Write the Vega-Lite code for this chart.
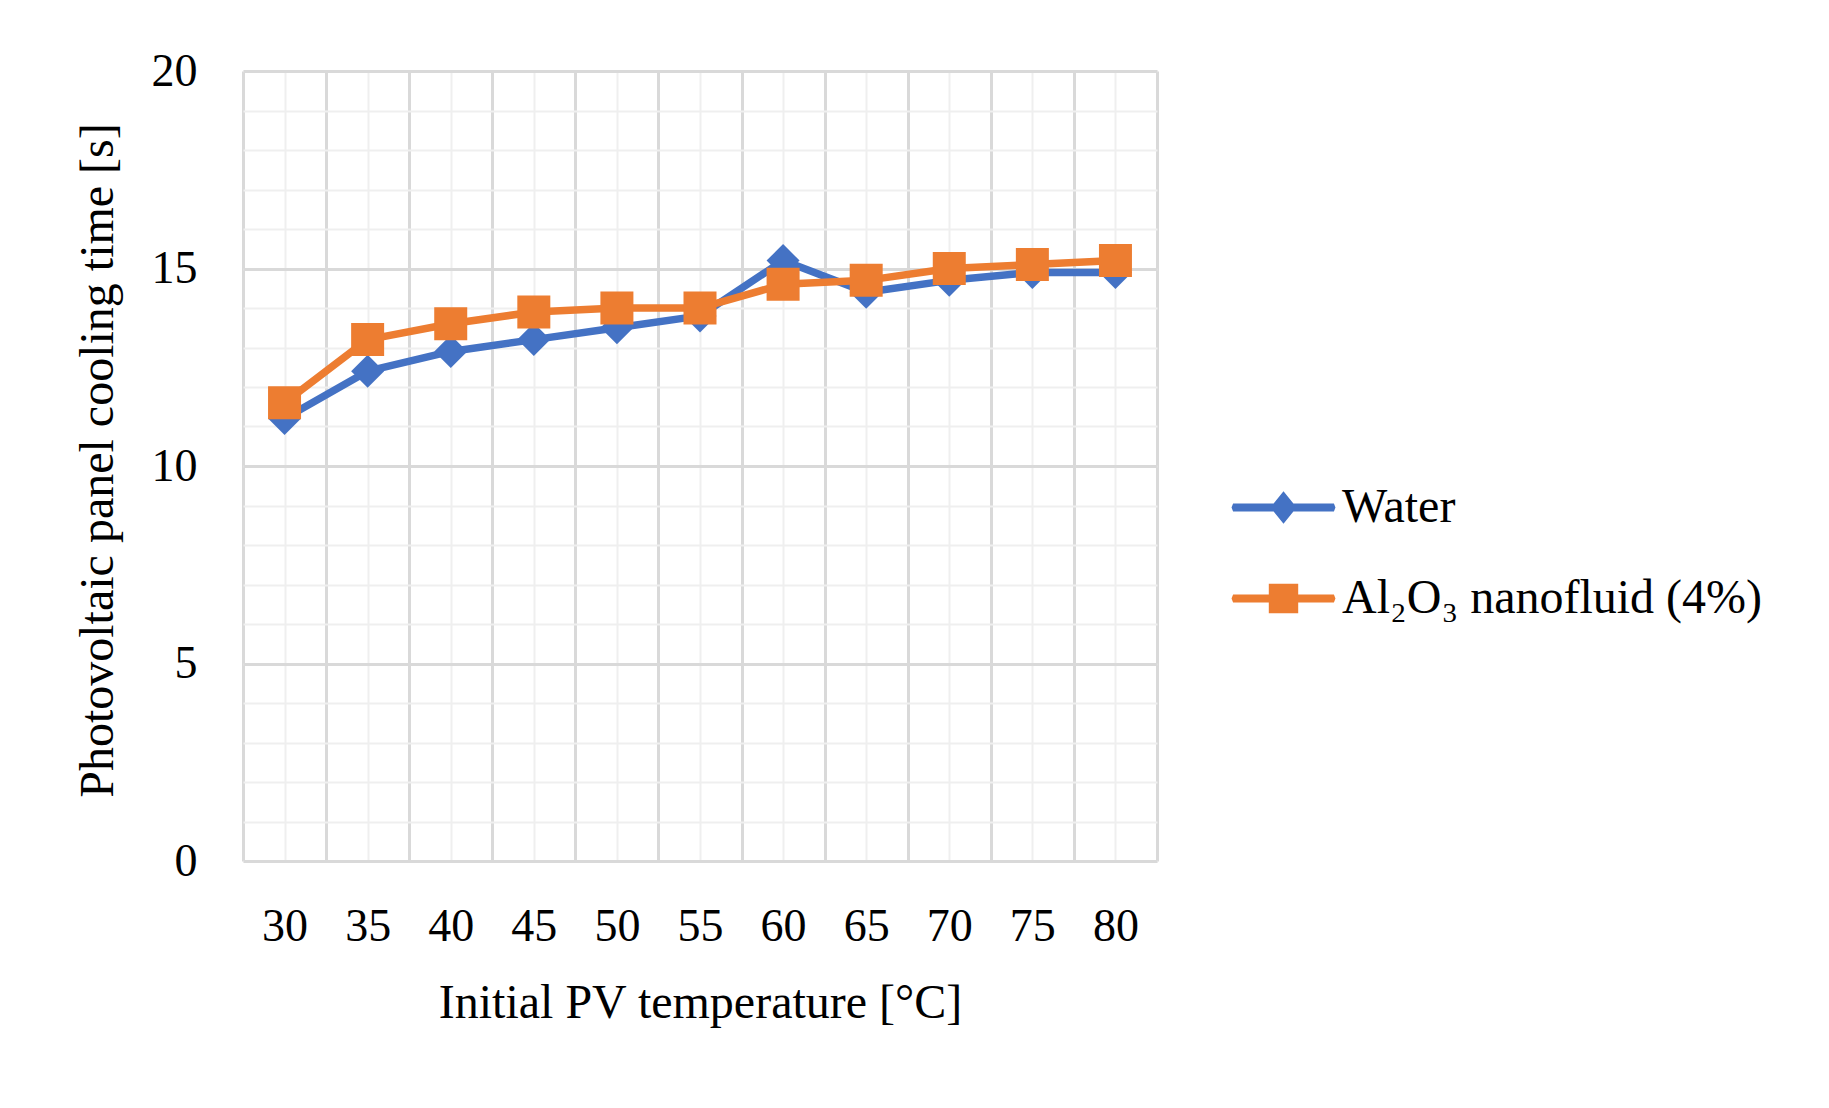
{
  "$schema": "https://vega.github.io/schema/vega-lite/v6.json",
  "width": 914,
  "height": 790,
  "autosize": {"type": "none"},
  "padding": {"left": 243, "top": 71, "right": 672, "bottom": 247},
  "background": "white",
  "config": {
    "view": {"stroke": null},
    "font": "Liberation Serif",
    "axis": {"labelColor": "#000000", "titleColor": "#000000", "labelFont": "Liberation Serif", "titleFont": "Liberation Serif", "titleFontWeight": "normal"},
    "legend": {"labelColor": "#000000", "labelFont": "Liberation Serif"}
  },
  "data": {
    "values": [
      {"t": 30, "series": "Water", "v": 11.2},
      {"t": 35, "series": "Water", "v": 12.4},
      {"t": 40, "series": "Water", "v": 12.9},
      {"t": 45, "series": "Water", "v": 13.2},
      {"t": 50, "series": "Water", "v": 13.5},
      {"t": 55, "series": "Water", "v": 13.8},
      {"t": 60, "series": "Water", "v": 15.2},
      {"t": 65, "series": "Water", "v": 14.4},
      {"t": 70, "series": "Water", "v": 14.7},
      {"t": 75, "series": "Water", "v": 14.9},
      {"t": 80, "series": "Water", "v": 14.9},
      {"t": 30, "series": "Al₂O₃ nanofluid (4%)", "v": 11.6},
      {"t": 35, "series": "Al₂O₃ nanofluid (4%)", "v": 13.2},
      {"t": 40, "series": "Al₂O₃ nanofluid (4%)", "v": 13.6},
      {"t": 45, "series": "Al₂O₃ nanofluid (4%)", "v": 13.9},
      {"t": 50, "series": "Al₂O₃ nanofluid (4%)", "v": 14.0},
      {"t": 55, "series": "Al₂O₃ nanofluid (4%)", "v": 14.0},
      {"t": 60, "series": "Al₂O₃ nanofluid (4%)", "v": 14.6},
      {"t": 65, "series": "Al₂O₃ nanofluid (4%)", "v": 14.7},
      {"t": 70, "series": "Al₂O₃ nanofluid (4%)", "v": 15.0},
      {"t": 75, "series": "Al₂O₃ nanofluid (4%)", "v": 15.1},
      {"t": 80, "series": "Al₂O₃ nanofluid (4%)", "v": 15.2}
    ]
  },
  "resolve": {"axis": {"x": "independent", "y": "independent"}},
  "layer": [
    {
      "transform": [{"filter": "datum.series === 'Water'"}],
      "mark": {
        "type": "line",
        "strokeWidth": 7.5,
        "strokeJoin": "round",
        "strokeCap": "round",
        "point": {"shape": "diamond", "size": 1089, "filled": true, "opacity": 1}
      },
      "encoding": {
        "x": {
          "field": "t", "type": "quantitative",
          "scale": {"domain": [27.5, 82.5], "nice": false, "zero": false},
          "axis": {
            "orient": "bottom",
            "values": [30, 35, 40, 45, 50, 55, 60, 65, 70, 75, 80],
            "grid": true, "gridColor": "#efefef", "gridWidth": 2,
            "domain": false, "ticks": false,
            "labels": true, "labelFontSize": 46, "labelPadding": 65, "labelBaseline": "middle",
            "title": "Initial PV temperature [°C]", "titleFontSize": 48,
            "titleX": 457, "titleY": 156, "titleBaseline": "alphabetic", "titleAlign": "center"
          }
        },
        "y": {
          "field": "v", "type": "quantitative",
          "scale": {"domain": [0, 20], "nice": false, "zero": true},
          "axis": {
            "orient": "left",
            "values": [0, 1, 2, 3, 4, 5, 6, 7, 8, 9, 10, 11, 12, 13, 14, 15, 16, 17, 18, 19, 20],
            "grid": true, "gridColor": "#efefef", "gridWidth": 2,
            "domain": false, "ticks": false, "labels": false, "title": null
          }
        },
        "color": {
          "field": "series", "type": "nominal",
          "scale": {"domain": ["Water", "Al₂O₃ nanofluid (4%)"], "range": ["#4472C4", "#ED7D31"]},
          "legend": {
            "title": null,
            "orient": "none",
            "legendX": 988,
            "legendY": 384,
            "labelFontSize": 48,
            "labelLimit": 700,
            "labelOffset": 6,
            "rowPadding": 14,
            "symbolSize": 11025,
            "symbolStrokeWidth": 0,
            "encode": {
              "symbols": {
                "update": {
                  "shape": {"signal": "datum.value === 'Water' ? 'M-0.96,-0.076 L0.96,-0.076 L0.99,0 L0.96,0.076 L-0.96,0.076 L-0.99,0 Z M0,-0.31 L0.25,0 L0,0.31 L-0.25,0 Z' : 'M-0.96,-0.076 L0.96,-0.076 L0.99,0 L0.96,0.076 L-0.96,0.076 L-0.99,0 Z M-0.28,-0.28 L0.28,-0.28 L0.28,0.28 L-0.28,0.28 Z'"},
                  "fill": {"signal": "scale('color', datum.value)"},
                  "stroke": {"value": "transparent"},
                  "strokeWidth": {"value": 0},
                  "opacity": {"value": 1}
                }
              }
            }
          }
        }
      }
    },
    {
      "transform": [{"filter": "datum.series !== 'Water'"}],
      "mark": {
        "type": "line",
        "strokeWidth": 7.5,
        "strokeJoin": "round",
        "strokeCap": "round",
        "point": {"shape": "square", "size": 1089, "filled": true, "opacity": 1}
      },
      "encoding": {
        "x": {
          "field": "t", "type": "quantitative",
          "scale": {"domain": [27.5, 82.5], "nice": false, "zero": false},
          "axis": {
            "orient": "bottom",
            "values": [27.5, 32.5, 37.5, 42.5, 47.5, 52.5, 57.5, 62.5, 67.5, 72.5, 77.5, 82.5],
            "grid": true, "gridColor": "#d9d9d9", "gridWidth": 3,
            "domain": false, "ticks": false, "labels": false, "title": null
          }
        },
        "y": {
          "field": "v", "type": "quantitative",
          "scale": {"domain": [0, 20], "nice": false, "zero": true},
          "axis": {
            "orient": "left",
            "values": [0, 5, 10, 15, 20],
            "grid": true, "gridColor": "#d9d9d9", "gridWidth": 3,
            "domain": false, "ticks": false,
            "labels": true, "labelFontSize": 46, "labelPadding": 46,
            "title": "Photovoltaic panel cooling time [s]", "titleFontSize": 48,
            "titleAngle": -90, "titleX": -131, "titleY": 389, "titleBaseline": "alphabetic", "titleAlign": "center"
          }
        },
        "color": {"field": "series", "type": "nominal"}
      }
    }
  ]
}
